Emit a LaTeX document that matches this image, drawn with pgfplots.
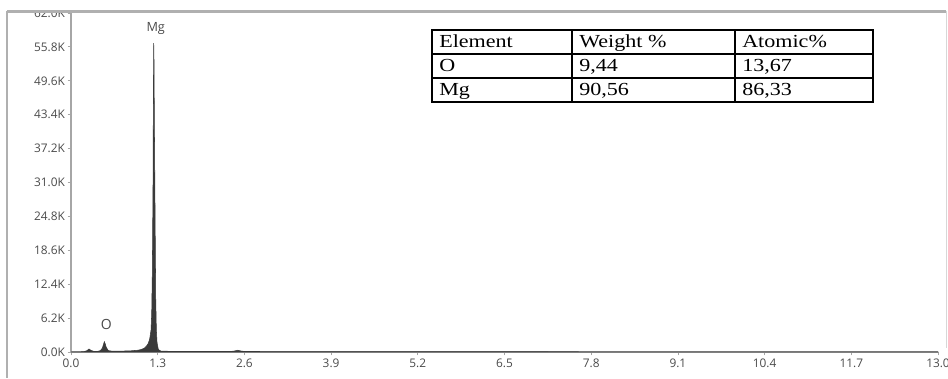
\documentclass[border=0pt]{standalone}
\usepackage{fontspec}
\setmainfont{Liberation Serif}
\newfontfamily\tickfont{Open Sans}
\usepackage{pgfplots}
\pgfplotsset{compat=1.18}
\definecolor{spec}{HTML}{3A3A3A}
\definecolor{tickc}{HTML}{4A4A4A}
\definecolor{framec}{HTML}{B0B0B0}
\begin{document}
\begin{tikzpicture}[x=0.75pt,y=0.75pt]
\useasboundingbox (0,0) rectangle (948,378);
\begin{axis}[
  at={(53.25pt,19.5pt)}, anchor=south west,
  scale only axis, width=650.25pt, height=254.25pt,
  xmin=0, xmax=13, ymin=0, ymax=62000,
  axis x line=bottom, axis y line=left,
  axis line style={draw=gray!70, line width=0.9pt, -},
  xtick={0,1.3,2.6,3.9,5.2,6.5,7.8,9.1,10.4,11.7,13.0},
  xticklabels={0.0,1.3,2.6,3.9,5.2,6.5,7.8,9.1,10.4,11.7,13.0},
  ytick={0,6200,12400,18600,24800,31000,37200,43400,49600,55800,62000},
  yticklabels={0.0K,6.2K,12.4K,18.6K,24.8K,31.0K,37.2K,43.4K,49.6K,55.8K,62.0K},
  tick align=outside, major tick length=2.5pt,
  tick style={draw=gray!70, line width=0.6pt},
  ticklabel style={font=\tickfont\fontsize{8.9}{10}\selectfont, text=tickc},
  xticklabel style={yshift=1pt},
  yticklabel style={xshift=1.5pt},
  clip=false,
]
\addplot[fill=spec, draw=spec, line width=0.4pt] coordinates {
(0.00,0) (0.10,0) (0.20,80) (0.24,250) (0.27,550) (0.30,300) (0.34,120)
(0.40,120) (0.44,250) (0.47,700) (0.49,1500) (0.50,1900) (0.51,1600)
(0.53,800) (0.56,250) (0.62,150) (0.80,180) (0.90,220) (1.00,320)
(1.05,450) (1.10,700) (1.13,1050) (1.16,1600) (1.18,2400) (1.20,4000)
(1.21,7000) (1.22,15000) (1.23,31000) (1.235,46000) (1.24,56500)
(1.245,53000) (1.25,42000) (1.26,26000) (1.27,10000) (1.28,4000)
(1.29,1700) (1.31,450) (1.35,150) (1.60,110) (2.00,100) (2.40,100)
(2.45,180) (2.50,320) (2.55,180) (2.60,100) (3.00,80) (5.00,60)
(8.00,40) (13.00,20)
} \closedcycle;
\node[font=\tickfont\fontsize{9.5}{10}\selectfont, text=tickc] at (axis cs:1.27,59200) {Mg};
\node[font=\tickfont\fontsize{10.5}{11}\selectfont, text=tickc] at (axis cs:0.53,5000) {O};
\end{axis}
% table
\begin{scope}[line width=0.8pt]
\draw (432,276) rectangle (873,348);
\draw (432,324) -- (873,324);
\draw (432,300) -- (873,300);
\draw (572,276) -- (572,348);
\draw (735,276) -- (735,348);
\end{scope}
\begin{scope}[every node/.style={anchor=base west, inner sep=0pt, font=\fontsize{13.8}{15}\selectfont}]
\node at (439,330) {\scalebox{1.2}[1]{Element}};
\node at (579,330) {\scalebox{1.2}[1]{Weight \%}};
\node at (742,330) {\scalebox{1.2}[1]{Atomic\%}};
\node at (439,306) {\scalebox{1.2}[1]{O}};
\node at (579,306) {\scalebox{1.2}[1]{9,44}};
\node at (742,306) {\scalebox{1.2}[1]{13,67}};
\node at (439,282) {\scalebox{1.2}[1]{Mg}};
\node at (579,282) {\scalebox{1.2}[1]{90,56}};
\node at (742,282) {\scalebox{1.2}[1]{86,33}};
\end{scope}
% outer frame
\fill[white] (0,367) rectangle (948,378);
\draw[framec, line width=2pt] (7,366.5) -- (946,366.5);
\draw[framec, line width=0.8pt] (7,367) -- (7,0);
\draw[framec!50, line width=0.5pt] (946,367) -- (946,30);
\end{tikzpicture}
\end{document}
